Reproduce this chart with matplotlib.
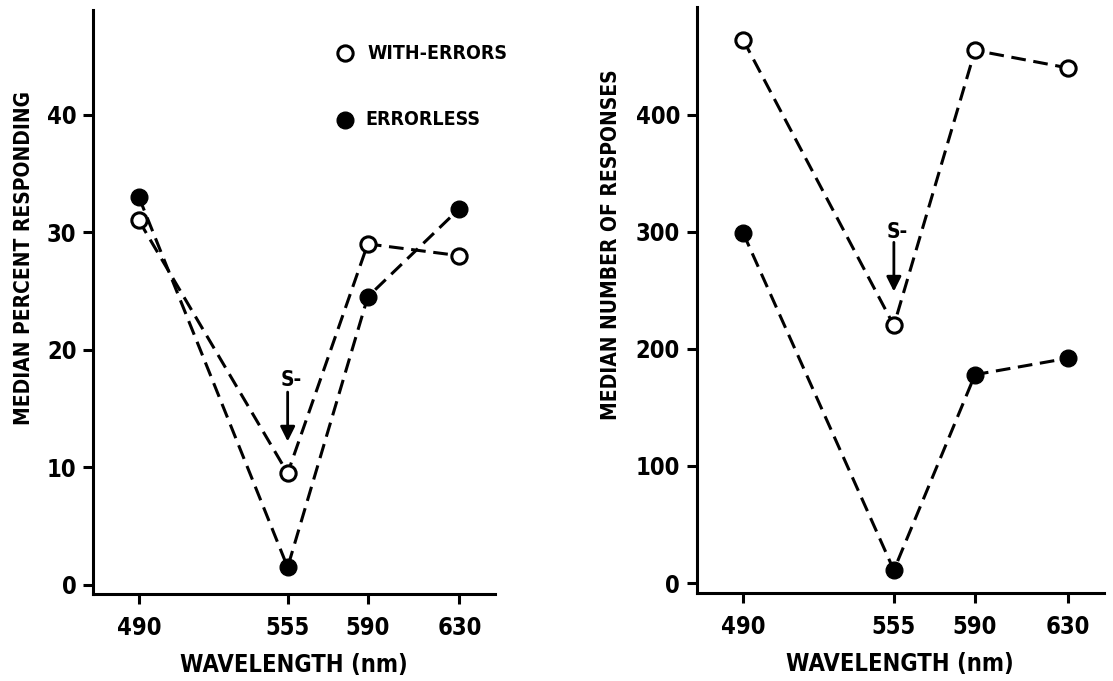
import matplotlib
matplotlib.use("Agg")
import matplotlib.pyplot as plt

plt.rcParams["font.family"] = ["DejaVu Sans"]
plt.rcParams["font.stretch"] = "condensed"
plt.rcParams["font.weight"] = "bold"
plt.rcParams["axes.labelweight"] = "bold"

wavelengths = [490, 555, 590, 630]
wavelength_labels = ["490", "555", "590", "630"]

# left panel: median percent responding
pct_with_errors = [31, 9.5, 29, 28]
pct_errorless = [33, 1.5, 24.5, 32]
pct_ticks = [0, 10, 20, 30, 40]

# right panel: median number of responses
resp_with_errors = [464, 220, 455, 440]
resp_errorless = [299, 11, 178, 192]
resp_ticks = [0, 100, 200, 300, 400]

fig = plt.figure(figsize=(11.13, 6.81), dpi=100)
ax1 = fig.add_axes([0.0836, 0.1278, 0.361, 0.8576])
ax2 = fig.add_axes([0.626, 0.1292, 0.3657, 0.8605])

line_kw = dict(color="black", lw=2.2, dashes=(4.8, 2.5))
open_kw = dict(marker="o", ms=11, mfc="white", mec="black", mew=2.2)
fill_kw = dict(marker="o", ms=12, mfc="black", mec="black", mew=1)


def style_axes(ax, ticks, ylim, ylabel, label_xy):
    ax.set_xlim(470, 645.5)
    ax.set_ylim(*ylim)
    ax.set_xticks(wavelengths)
    ax.set_xticklabels(wavelength_labels)
    ax.set_yticks(ticks)
    for side in ("top", "right"):
        ax.spines[side].set_visible(False)
    for side in ("left", "bottom"):
        ax.spines[side].set_linewidth(2.2)
    ax.tick_params(axis="both", direction="out", length=7, width=2.2,
                   labelsize=17, pad=5)
    ax.tick_params(axis="x", pad=9)
    ax.set_xlabel("WAVELENGTH (nm)", fontsize=17, labelpad=9)
    ax.set_ylabel(ylabel, fontsize=15)
    ax.yaxis.set_label_coords(*label_xy)


def s_minus(ax, y_text, y_start, y_tip):
    ax.annotate("", xy=(555, y_tip), xytext=(555, y_start),
                arrowprops=dict(arrowstyle="-|>", lw=2, color="black",
                                mutation_scale=22, shrinkA=0, shrinkB=0))
    ax.annotate("S-", xy=(555, y_text), xytext=(-7, 0),
                textcoords="offset pixels", ha="left", va="center",
                fontsize=15)


ax1.plot(wavelengths, pct_with_errors, **line_kw, zorder=2)
ax1.plot(wavelengths, pct_errorless, **line_kw, zorder=2)
ax1.plot(wavelengths, pct_with_errors, ls="none", **open_kw, zorder=3)
ax1.plot(wavelengths, pct_errorless, ls="none", **fill_kw, zorder=3)
style_axes(ax1, pct_ticks, (-0.77, 48.9), "MEDIAN PERCENT RESPONDING",
           (-0.147, 0.575))
s_minus(ax1, 17.4, 16.4, 12.2)

# legend drawn as text + markers in axes coordinates
ax1.plot([0.627], [0.926], transform=ax1.transAxes, ls="none", **open_kw)
ax1.text(0.684, 0.926, "WITH-ERRORS", transform=ax1.transAxes,
         ha="left", va="center", fontsize=14)
ax1.plot([0.627], [0.812], transform=ax1.transAxes, ls="none", **fill_kw)
ax1.text(0.679, 0.812, "ERRORLESS", transform=ax1.transAxes,
         ha="left", va="center", fontsize=14)

ax2.plot(wavelengths, resp_with_errors, **line_kw, zorder=2)
ax2.plot(wavelengths, resp_errorless, **line_kw, zorder=2)
ax2.plot(wavelengths, resp_with_errors, ls="none", **open_kw, zorder=3)
ax2.plot(wavelengths, resp_errorless, ls="none", **fill_kw, zorder=3)
style_axes(ax2, resp_ticks, (-8.5, 492), "MEDIAN NUMBER OF RESPONSES",
           (-0.187, 0.594))
s_minus(ax2, 300, 291, 249)

fig.savefig("out.png", dpi=100, facecolor="white")
